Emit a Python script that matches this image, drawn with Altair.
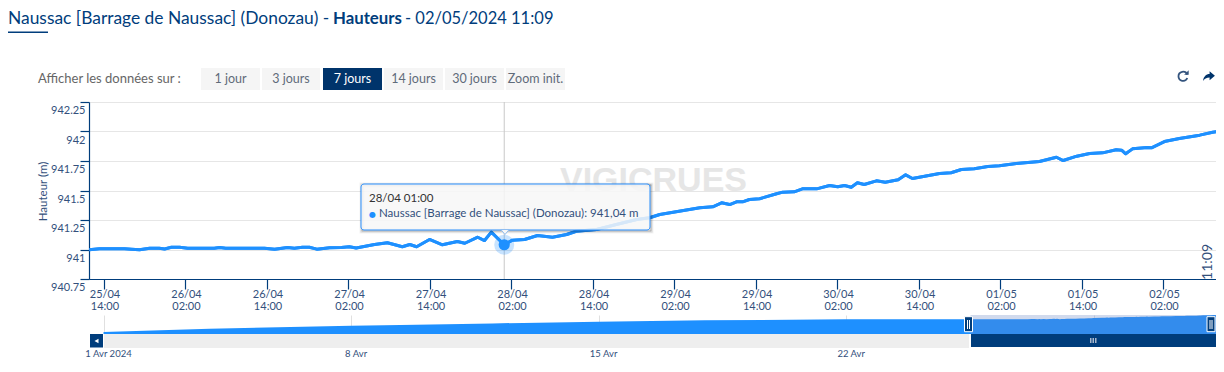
from datetime import datetime, timezone, timedelta
import altair as alt
import pandas as pd

# ---- values ----
hours_from_apr25_14h = [-2.1,-0.6,3.1,4.1,5.3,6.8,8.2,9.0,10.0,11.2,12.4,16.3,17.1,18.0,23.7,25.2,27.1,28.1,29.3,30.3,
    31.4,33.3,35.0,36.2,37.2,39.9,41.8,44.0,45.1,46.1,48.0,49.9,52.1,53.2,55.1,56.1,57.1,59.0,60.2,62.0,
    63.9,66.1,68.2,69.6,72.6,75.5,78.5,80.4,81.9,87.8,89.7,91.0,92.2,93.2,94.1,95.1,96.6,99.1,100.0,101.7,
    102.9,105.0,106.9,108.1,109.1,110.1,111.0,112.0,113.8,115.1,117.0,118.1,119.1,123.1,124.8,126.3,128.2,130.2,131.9,134.4,
    137.8,140.3,141.3,143.3,145.2,147.1,149.1,149.9,150.5,151.5,153.7,154.3,156.2,158.4,161.4,163.3,164.9]
heights = [940.998,941.006,941.006,941.003,940.997,941.011,941.011,941.004,941.019,941.019,941.011,941.011,941.017,941.011,941.011,941.003,941.017,941.011,941.019,941.019,
    941.003,941.014,941.017,941.023,941.013,941.042,941.057,941.023,941.042,941.023,941.085,941.040,941.068,941.053,941.104,941.076,941.147,941.040,941.079,941.085,
    941.119,941.104,941.127,941.155,941.169,941.212,941.254,941.269,941.297,941.353,941.362,941.396,941.381,941.404,941.404,941.424,941.430,941.472,941.486,941.489,
    941.514,941.514,941.542,941.531,941.542,941.528,941.565,941.551,941.582,941.570,941.591,941.633,941.602,941.644,941.650,941.678,941.684,941.703,941.709,941.729,
    941.746,941.782,941.754,941.791,941.814,941.819,941.845,941.842,941.811,941.853,941.864,941.862,941.915,941.941,941.969,941.994,942.008]
nav_early_days = [1, 4, 8, 9.4, 12, 15, 18, 22, 25]   # day of April
nav_early_heights = [938.05, 938.8, 939.5, 939.67, 940.05, 940.44, 940.75, 941.0, 941.0]
y_ticks = [940.75, 941, 941.25, 941.5, 941.75, 942, 942.25]
buttons = ["1 jour", "3 jours", "7 jours", "14 jours", "30 jours", "Zoom init."]
tooltip_time = "28/04 01:00"
tooltip_text = "Naussac [Barrage de Naussac] (Donozau): 941,04 m"

FONT = "Lato"
BLUE = "#1e90ff"
NAVY = "#003d7c"
TXT = "#33507c"
PLOT_W = 1127

UTC = timezone.utc
def ms(d): return d.timestamp() * 1000
T0 = datetime(2024, 4, 25, 14, tzinfo=UTC)
def at(h): return ms(T0 + timedelta(hours=h))

main_df = pd.DataFrame({"t": [at(h) for h in hours_from_apr25_14h], "v": heights})
x_vals = [at(12 * i) for i in range(14)]
hover_df = pd.DataFrame({"t": [at(59)], "v": [941.04]})
one = pd.DataFrame({"a": [0]})

# main plot origin in page coordinates
OX, OY = 89, 102
def box(x0, y0, x1, y1, ox=OX, oy=OY, **kw):
    return alt.Chart(one).mark_rect(**kw).encode(
        x=alt.value(x0 - ox), x2=alt.value(x1 - ox), y=alt.value(y0 - oy), y2=alt.value(y1 - oy))
def label(s, x, y, size=12, color=TXT, align="left", weight="normal", ox=OX, oy=OY, **kw):
    return alt.Chart(pd.DataFrame({"s": [s]})).mark_text(
        font=kw.pop("font", FONT), fontSize=size, color=color, align=align, baseline="middle",
        fontWeight=weight, **kw).encode(text="s:N", x=alt.value(x - ox), y=alt.value(y - oy))

x_enc = alt.X("t:T", title=None,
    scale=alt.Scale(type="utc", domain=[at(-2.135), at(-2.135 + PLOT_W / 6.792)]),
    axis=alt.Axis(values=x_vals, tickCount=30, grid=False, tickSize=10, tickColor=NAVY, domainColor=NAVY,
        tickWidth=1.2, domainWidth=1.2,
        labelExpr="[utcFormat(datum.value,'%d/%m'), utcFormat(datum.value,'%H:%M')]",
        labelColor=TXT, labelFont=FONT, labelFontSize=11, labelLineHeight=12.5, labelPadding=-1,
        labelOverlap=False, labelAlign="center", labelOffset=1, labelFlush=False))
y_enc = alt.Y("v:Q", title="Hauteur (m)",
    scale=alt.Scale(domain=[940.75, 942.25], zero=False, nice=False),
    axis=alt.Axis(values=y_ticks, tickCount=10, grid=True, gridColor="#e6e6e6", gridWidth=1.2, tickSize=9, tickColor=NAVY,
        domainColor=NAVY, tickWidth=1.2, domainWidth=1.2, labelExpr="datum.value + ''", labelColor=TXT,
        labelFont=FONT, labelFontSize=11, labelPadding=-5, labelOffset=8.5, labelOverlap=False, labelFlush=False,
        titleColor=TXT, titleFont=FONT, titleFontSize=11.5, titleFontWeight="normal",
        titleX=-41, titleY=89))

base_line = alt.Chart(main_df).mark_line(color=BLUE, strokeWidth=3, strokeJoin="round", clip=True).encode(x=x_enc, y=y_enc)
watermark = label("VIGICRUES", 560, 181, size=34, color="#e6e6e6", weight="bold", font="Liberation Sans")
cross = alt.Chart(hover_df).mark_rule(color="#c8c8c8", strokeWidth=1).encode(x="t:T", y=alt.value(0), y2=alt.value(177))
halo = alt.Chart(hover_df).mark_point(filled=True, color=BLUE, opacity=0.25, size=400).encode(x="t:T", y="v:Q")
dot = alt.Chart(hover_df).mark_point(filled=True, color=BLUE, opacity=1, size=125).encode(x="t:T", y="v:Q")

shadows = [box(362, 185, 651, 231, fillOpacity=0, stroke="#000000", strokeOpacity=o, strokeWidth=w)
           for o, w in ((0.05, 5), (0.1, 3), (0.15, 1))]
tip_box = box(361, 184, 650, 230, fill="#f7f7f7", fillOpacity=0.85, stroke="#2b90ff", strokeWidth=1, cornerRadius=3)
tip_arrow = alt.Chart(one).mark_point(
    shape="M-1,-0.6 L0,0.6 L1,-0.6 Z", filled=True, fill="#f7f7f7", stroke="#8fbdf0", strokeWidth=1, opacity=1, size=70
).encode(x=alt.value(505 - OX), y=alt.value(232 - OY))
tip_t1 = label(tooltip_time, 369, 199, size=11.5, color="#333333")
tip_bullet = label("●", 369, 214.5, size=8, color=BLUE, font="DejaVu Sans")
tip_t2 = label(tooltip_text, 379, 214, size=11.5, color=TXT)
time_tag = label("11:09", 1208, 262, size=14, color=TXT, angle=270, align="center")

chrome = [
    box(8, 8, 9, 9, fill="#ffffff"),
    label("Naussac [Barrage de Naussac] (Donozau) -", 8, 18.5, size=17.4, color=NAVY),
    label("Hauteurs", 333, 18.5, size=16.8, color=NAVY, weight="bold"),
    label("- 02/05/2024 11:09", 405, 18.5, size=16.5, color=NAVY),
    box(8, 31.5, 48, 33, fill=NAVY),
    label("Afficher les données sur :", 38, 79, size=13, color="#666666"),
]
btn_x = [(201, 260), (262, 320), (323, 382), (384, 443), (445, 504), (506, 565)]
for (a, b), s in zip(btn_x, buttons):
    active = s == "7 jours"
    chrome.append(box(a, 68, b, 90, fill="#00346b" if active else "#f5f5f5"))
    chrome.append(label(s, (a + b) / 2, 79, size=12.5, color="#ffffff" if active else "#5f6b7a", align="center"))
refresh_arc = alt.Chart(one).mark_point(
    shape="M0.75,-0.25 A0.8,0.8 0 1 0 0.75,0.35", filled=False, stroke="#34547e", strokeWidth=1.8, opacity=1, size=130
).encode(x=alt.value(1183 - OX), y=alt.value(76 - OY))
refresh_tip = alt.Chart(one).mark_point(
    shape="M0.2,-0.2 L1,-0.2 L1,-1 Z", filled=True, fill="#34547e", opacity=1, size=130
).encode(x=alt.value(1183 - OX), y=alt.value(76 - OY))
share = alt.Chart(one).mark_point(
    shape="M0.1,-0.8 L1,-0.05 L0.1,0.7 L0.1,0.25 C-0.4,0.25 -0.8,0.45 -1,0.85 C-0.95,0.1 -0.5,-0.35 0.1,-0.35 Z",
    filled=True, fill="#00346b", opacity=1, size=140
).encode(x=alt.value(1209 - OX), y=alt.value(76 - OY))
chrome += [refresh_arc, refresh_tip, share]

main = alt.layer(base_line, watermark, cross, base_line, halo, dot, *shadows, tip_box, tip_arrow,
                 tip_t1, tip_bullet, tip_t2, time_tag, *chrome).properties(width=PLOT_W, height=177)

# ---- navigator ----
NX, NY = 89, 315
D0 = datetime(2024, 4, 1, tzinfo=UTC)
def day(d): return ms(D0 + timedelta(days=d - 1))
nav_df = pd.DataFrame({"t": [day(d) for d in nav_early_days] + main_df["t"].iloc[1:].tolist(),
                       "v": nav_early_heights + heights[1:]})
nav_ticks = [day(d) for d in (1, 8, 15, 22, 29)]
nav_x = alt.X("t:T", title=None,
    scale=alt.Scale(type="utc", domain=[day(1) - 14.5 / 35.35 * 864e5, day(1) + (PLOT_W + 89 - 104) / 35.35 * 864e5]),
    axis=alt.Axis(values=nav_ticks, tickCount=30, grid=True, gridColor="#e0e0e0", domain=False, ticks=False,
        labelExpr="utcdate(datum.value)==1 ? '1 Avr 2024' : utcdate(datum.value)==29 ? '' : utcdate(datum.value)+' Avr'",
        labelColor=TXT, labelFont=FONT, labelFontSize=9.5, labelPadding=14, labelOffset=4.5, labelOverlap=False,
        labelFlush=False))
nav_y = alt.Y("v:Q", title=None, scale=alt.Scale(domain=[937.58, 942.0], zero=False, nice=False), axis=None)
nav_area = alt.Chart(nav_df).mark_area(color=BLUE, opacity=1, clip=True).encode(x=nav_x, y=nav_y)
def nb(x0, y0, x1, y1, **kw): return box(x0, y0, x1, y1, ox=NX, oy=NY, **kw)
def handle(cx):
    return [nb(cx - 4, 316.7, cx + 4, 331.7, fill=NAVY, stroke="#ffffff", strokeWidth=1),
            nb(cx - 1.5, 320, cx - 0.5, 329, fill="#ffffff"), nb(cx + 0.5, 320, cx + 1.5, 329, fill="#ffffff")]
nav_parts = [
    nav_area,
    nb(970.5, 315, 1216, 334, fill="#6685c2", fillOpacity=0.3),
    nb(104, 334, 969, 348, fill="#eeeeee"),
    nb(971, 334, 1216, 347, fill=NAVY),
    nb(90, 334, 103, 347.5, fill=NAVY),
    nb(1090, 338, 1091.5, 343, fill="#a9b8cc"), nb(1092.5, 338, 1094, 343, fill="#a9b8cc"), nb(1095, 338, 1096.5, 343, fill="#a9b8cc"),
    alt.Chart(one).mark_point(shape="triangle-left", filled=True, color="#ffffff", opacity=1, size=22).encode(
        x=alt.value(96.5 - NX), y=alt.value(341 - NY)),
    *handle(968.5), *handle(1211),
]
nav = alt.layer(*nav_parts).properties(width=PLOT_W, height=19)

chart = alt.vconcat(main, nav, spacing=3).configure_view(stroke=None).properties(padding=0, background="#ffffff")
chart.save("out.html", embed_options={"renderer": "svg", "actions": False})
